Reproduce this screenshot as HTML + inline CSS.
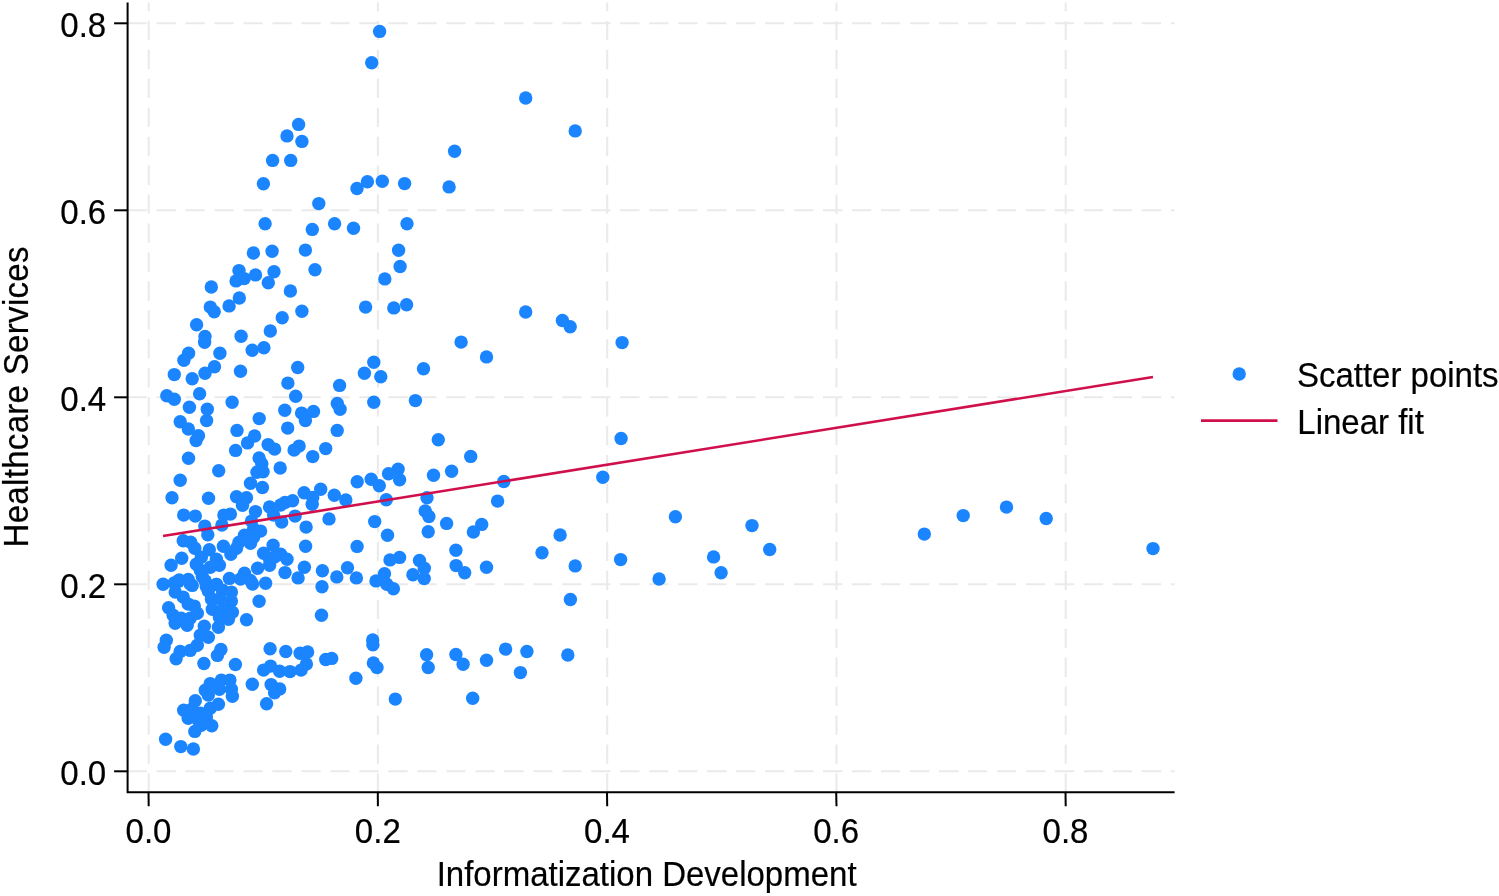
<!DOCTYPE html><html><head><meta charset="utf-8"><title>Scatter</title><style>html,body{margin:0;padding:0;background:#fff}svg{display:block}text{font-family:"Liberation Sans",sans-serif;font-size:33px;fill:#000;stroke:#000;stroke-width:0.2px}</style></head><body>
<svg width="1499" height="896" viewBox="0 0 1499 896">
<rect width="1499" height="896" fill="#fff"/>
<g stroke="#eaeaea" stroke-width="2.1" fill="none"><g stroke-dasharray="19.3 9.68"><line x1="127.5" x2="1174.6" y1="771.3" y2="771.3"/><line x1="127.5" x2="1174.6" y1="584.3" y2="584.3"/><line x1="127.5" x2="1174.6" y1="397.3" y2="397.3"/><line x1="127.5" x2="1174.6" y1="210.3" y2="210.3"/><line x1="127.5" x2="1174.6" y1="23.3" y2="23.3"/></g><g stroke-dasharray="19.3 9.64" stroke-dashoffset="10.54"><line y1="2.5" y2="792" x1="148.7" x2="148.7"/><line y1="2.5" y2="792" x1="377.9" x2="377.9"/><line y1="2.5" y2="792" x1="607.2" x2="607.2"/><line y1="2.5" y2="792" x1="836.5" x2="836.5"/><line y1="2.5" y2="792" x1="1065.7" x2="1065.7"/></g></g>
<g fill="#1a85ff"><circle cx="379.6" cy="31.4" r="6.7"/><circle cx="371.7" cy="62.7" r="6.7"/><circle cx="298.6" cy="124.4" r="6.7"/><circle cx="287.0" cy="135.9" r="6.7"/><circle cx="301.9" cy="141.4" r="6.7"/><circle cx="272.6" cy="160.4" r="6.7"/><circle cx="290.7" cy="160.4" r="6.7"/><circle cx="263.4" cy="183.8" r="6.7"/><circle cx="367.4" cy="181.8" r="6.7"/><circle cx="382.3" cy="181.3" r="6.7"/><circle cx="357.0" cy="188.5" r="6.7"/><circle cx="318.8" cy="203.6" r="6.7"/><circle cx="265.1" cy="223.7" r="6.7"/><circle cx="334.6" cy="223.8" r="6.7"/><circle cx="312.3" cy="229.4" r="6.7"/><circle cx="353.5" cy="228.2" r="6.7"/><circle cx="253.4" cy="253.0" r="6.7"/><circle cx="272.1" cy="251.3" r="6.7"/><circle cx="305.4" cy="250.1" r="6.7"/><circle cx="239.0" cy="270.6" r="6.7"/><circle cx="274.0" cy="271.7" r="6.7"/><circle cx="315.0" cy="269.7" r="6.7"/><circle cx="255.5" cy="274.9" r="6.7"/><circle cx="244.2" cy="278.6" r="6.7"/><circle cx="236.1" cy="280.9" r="6.7"/><circle cx="268.3" cy="282.8" r="6.7"/><circle cx="211.3" cy="287.0" r="6.7"/><circle cx="290.4" cy="291.0" r="6.7"/><circle cx="384.8" cy="278.9" r="6.7"/><circle cx="239.3" cy="298.0" r="6.7"/><circle cx="229.1" cy="305.9" r="6.7"/><circle cx="210.3" cy="307.1" r="6.7"/><circle cx="214.2" cy="311.8" r="6.7"/><circle cx="196.6" cy="324.7" r="6.7"/><circle cx="301.9" cy="311.3" r="6.7"/><circle cx="282.2" cy="317.8" r="6.7"/><circle cx="365.6" cy="307.1" r="6.7"/><circle cx="270.3" cy="331.0" r="6.7"/><circle cx="241.1" cy="336.2" r="6.7"/><circle cx="205.0" cy="336.4" r="6.7"/><circle cx="204.6" cy="342.2" r="6.7"/><circle cx="263.9" cy="347.8" r="6.7"/><circle cx="252.2" cy="350.3" r="6.7"/><circle cx="188.6" cy="353.3" r="6.7"/><circle cx="219.9" cy="353.3" r="6.7"/><circle cx="183.9" cy="360.3" r="6.7"/><circle cx="214.5" cy="366.7" r="6.7"/><circle cx="240.5" cy="371.2" r="6.7"/><circle cx="297.7" cy="367.5" r="6.7"/><circle cx="205.0" cy="373.2" r="6.7"/><circle cx="174.3" cy="374.6" r="6.7"/><circle cx="192.2" cy="378.7" r="6.7"/><circle cx="373.8" cy="362.3" r="6.7"/><circle cx="364.4" cy="373.2" r="6.7"/><circle cx="380.8" cy="376.7" r="6.7"/><circle cx="287.9" cy="383.1" r="6.7"/><circle cx="339.6" cy="385.4" r="6.7"/><circle cx="199.6" cy="393.8" r="6.7"/><circle cx="166.8" cy="395.8" r="6.7"/><circle cx="174.3" cy="399.2" r="6.7"/><circle cx="295.7" cy="396.3" r="6.7"/><circle cx="232.1" cy="402.2" r="6.7"/><circle cx="373.8" cy="402.2" r="6.7"/><circle cx="337.3" cy="403.4" r="6.7"/><circle cx="340.1" cy="409.2" r="6.7"/><circle cx="189.4" cy="407.2" r="6.7"/><circle cx="207.3" cy="409.2" r="6.7"/><circle cx="284.8" cy="410.2" r="6.7"/><circle cx="313.5" cy="411.4" r="6.7"/><circle cx="301.6" cy="413.1" r="6.7"/><circle cx="305.4" cy="420.6" r="6.7"/><circle cx="259.2" cy="418.6" r="6.7"/><circle cx="206.6" cy="420.6" r="6.7"/><circle cx="180.2" cy="421.8" r="6.7"/><circle cx="188.4" cy="429.0" r="6.7"/><circle cx="287.7" cy="428.1" r="6.7"/><circle cx="337.2" cy="430.4" r="6.7"/><circle cx="237.0" cy="430.4" r="6.7"/><circle cx="198.5" cy="435.8" r="6.7"/><circle cx="254.6" cy="436.0" r="6.7"/><circle cx="196.1" cy="440.6" r="6.7"/><circle cx="247.5" cy="442.9" r="6.7"/><circle cx="235.6" cy="450.4" r="6.7"/><circle cx="268.1" cy="444.6" r="6.7"/><circle cx="274.6" cy="449.1" r="6.7"/><circle cx="188.5" cy="458.2" r="6.7"/><circle cx="259.1" cy="458.0" r="6.7"/><circle cx="261.8" cy="463.7" r="6.7"/><circle cx="257.0" cy="472.2" r="6.7"/><circle cx="263.1" cy="471.7" r="6.7"/><circle cx="280.2" cy="468.0" r="6.7"/><circle cx="218.7" cy="470.7" r="6.7"/><circle cx="180.2" cy="480.3" r="6.7"/><circle cx="250.5" cy="483.3" r="6.7"/><circle cx="262.4" cy="487.5" r="6.7"/><circle cx="172.0" cy="497.8" r="6.7"/><circle cx="208.5" cy="498.3" r="6.7"/><circle cx="236.5" cy="496.8" r="6.7"/><circle cx="246.5" cy="497.8" r="6.7"/><circle cx="242.5" cy="505.2" r="6.7"/><circle cx="299.1" cy="446.1" r="6.7"/><circle cx="294.1" cy="450.1" r="6.7"/><circle cx="325.7" cy="448.6" r="6.7"/><circle cx="312.7" cy="456.6" r="6.7"/><circle cx="357.2" cy="481.8" r="6.7"/><circle cx="371.2" cy="479.3" r="6.7"/><circle cx="379.3" cy="485.8" r="6.7"/><circle cx="388.5" cy="473.7" r="6.7"/><circle cx="398.1" cy="469.2" r="6.7"/><circle cx="399.6" cy="479.8" r="6.7"/><circle cx="386.3" cy="499.7" r="6.7"/><circle cx="320.7" cy="489.3" r="6.7"/><circle cx="304.1" cy="492.8" r="6.7"/><circle cx="312.7" cy="497.5" r="6.7"/><circle cx="312.2" cy="504.2" r="6.7"/><circle cx="334.3" cy="495.3" r="6.7"/><circle cx="345.8" cy="500.0" r="6.7"/><circle cx="292.6" cy="500.7" r="6.7"/><circle cx="285.0" cy="502.4" r="6.7"/><circle cx="183.7" cy="515.1" r="6.7"/><circle cx="195.3" cy="516.1" r="6.7"/><circle cx="204.8" cy="526.1" r="6.7"/><circle cx="207.8" cy="534.7" r="6.7"/><circle cx="223.9" cy="515.1" r="6.7"/><circle cx="230.4" cy="514.1" r="6.7"/><circle cx="221.9" cy="525.1" r="6.7"/><circle cx="255.5" cy="511.6" r="6.7"/><circle cx="251.5" cy="521.1" r="6.7"/><circle cx="269.6" cy="507.0" r="6.7"/><circle cx="273.6" cy="515.1" r="6.7"/><circle cx="281.7" cy="522.1" r="6.7"/><circle cx="280.7" cy="505.0" r="6.7"/><circle cx="183.2" cy="540.7" r="6.7"/><circle cx="190.7" cy="542.2" r="6.7"/><circle cx="194.8" cy="548.2" r="6.7"/><circle cx="209.3" cy="549.7" r="6.7"/><circle cx="223.4" cy="546.2" r="6.7"/><circle cx="230.9" cy="554.3" r="6.7"/><circle cx="239.0" cy="542.2" r="6.7"/><circle cx="244.5" cy="535.2" r="6.7"/><circle cx="250.5" cy="543.2" r="6.7"/><circle cx="253.5" cy="529.1" r="6.7"/><circle cx="260.6" cy="531.1" r="6.7"/><circle cx="181.7" cy="558.3" r="6.7"/><circle cx="171.1" cy="565.3" r="6.7"/><circle cx="196.3" cy="564.3" r="6.7"/><circle cx="201.3" cy="557.3" r="6.7"/><circle cx="216.4" cy="559.3" r="6.7"/><circle cx="219.4" cy="565.3" r="6.7"/><circle cx="210.3" cy="567.3" r="6.7"/><circle cx="273.1" cy="545.2" r="6.7"/><circle cx="263.6" cy="553.3" r="6.7"/><circle cx="269.6" cy="559.3" r="6.7"/><circle cx="280.7" cy="554.3" r="6.7"/><circle cx="287.0" cy="559.3" r="6.7"/><circle cx="257.6" cy="568.3" r="6.7"/><circle cx="269.6" cy="565.3" r="6.7"/><circle cx="285.0" cy="572.6" r="6.7"/><circle cx="244.5" cy="573.3" r="6.7"/><circle cx="229.4" cy="578.4" r="6.7"/><circle cx="250.5" cy="580.4" r="6.7"/><circle cx="265.6" cy="583.2" r="6.7"/><circle cx="200.3" cy="570.3" r="6.7"/><circle cx="202.3" cy="576.4" r="6.7"/><circle cx="188.2" cy="579.4" r="6.7"/><circle cx="178.2" cy="581.4" r="6.7"/><circle cx="163.1" cy="584.2" r="6.7"/><circle cx="192.2" cy="585.4" r="6.7"/><circle cx="216.4" cy="584.4" r="6.7"/><circle cx="206.3" cy="586.4" r="6.7"/><circle cx="295.1" cy="516.1" r="6.7"/><circle cx="306.1" cy="527.1" r="6.7"/><circle cx="329.0" cy="518.9" r="6.7"/><circle cx="374.7" cy="521.6" r="6.7"/><circle cx="387.5" cy="535.3" r="6.7"/><circle cx="305.6" cy="546.2" r="6.7"/><circle cx="357.1" cy="546.4" r="6.7"/><circle cx="425.2" cy="511" r="6.7"/><circle cx="428.9" cy="516.5" r="6.7"/><circle cx="428.2" cy="531.8" r="6.7"/><circle cx="304.4" cy="567.3" r="6.7"/><circle cx="298.1" cy="577.9" r="6.7"/><circle cx="322.4" cy="570.8" r="6.7"/><circle cx="336.8" cy="576.9" r="6.7"/><circle cx="347.5" cy="567.8" r="6.7"/><circle cx="356.4" cy="577.9" r="6.7"/><circle cx="322.0" cy="586.8" r="6.7"/><circle cx="390.0" cy="559.9" r="6.7"/><circle cx="399.6" cy="557.4" r="6.7"/><circle cx="384.5" cy="573.8" r="6.7"/><circle cx="376.0" cy="580.9" r="6.7"/><circle cx="386.8" cy="584.2" r="6.7"/><circle cx="393.4" cy="588.7" r="6.7"/><circle cx="419.5" cy="560.5" r="6.7"/><circle cx="424.3" cy="568.3" r="6.7"/><circle cx="412.9" cy="574.8" r="6.7"/><circle cx="424.2" cy="578.5" r="6.7"/><circle cx="174.2" cy="583" r="6.7"/><circle cx="179.2" cy="580" r="6.7"/><circle cx="190.2" cy="584.0" r="6.7"/><circle cx="175.2" cy="592.1" r="6.7"/><circle cx="183.2" cy="597.1" r="6.7"/><circle cx="188.2" cy="604.1" r="6.7"/><circle cx="194.3" cy="606.1" r="6.7"/><circle cx="168.6" cy="607.7" r="6.7"/><circle cx="173.2" cy="615.2" r="6.7"/><circle cx="175.2" cy="623.2" r="6.7"/><circle cx="181.2" cy="618.2" r="6.7"/><circle cx="187.2" cy="625.2" r="6.7"/><circle cx="190.2" cy="618.2" r="6.7"/><circle cx="197.3" cy="613.2" r="6.7"/><circle cx="205.3" cy="581.0" r="6.7"/><circle cx="216.4" cy="584.5" r="6.7"/><circle cx="208.3" cy="591.1" r="6.7"/><circle cx="222.4" cy="590.1" r="6.7"/><circle cx="231.4" cy="592.1" r="6.7"/><circle cx="211.5" cy="599.3" r="6.7"/><circle cx="219.6" cy="598.6" r="6.7"/><circle cx="231.4" cy="601.1" r="6.7"/><circle cx="212.3" cy="609.2" r="6.7"/><circle cx="223.4" cy="609.2" r="6.7"/><circle cx="232.4" cy="612.2" r="6.7"/><circle cx="219.4" cy="617.2" r="6.7"/><circle cx="228.4" cy="619.2" r="6.7"/><circle cx="218.4" cy="627.2" r="6.7"/><circle cx="252.5" cy="584" r="6.7"/><circle cx="240.5" cy="579" r="6.7"/><circle cx="259.1" cy="601.3" r="6.7"/><circle cx="246.5" cy="619.7" r="6.7"/><circle cx="204.3" cy="626.2" r="6.7"/><circle cx="200.3" cy="635.3" r="6.7"/><circle cx="208.3" cy="637.3" r="6.7"/><circle cx="197.3" cy="645.3" r="6.7"/><circle cx="190.2" cy="650.4" r="6.7"/><circle cx="180.2" cy="651.4" r="6.7"/><circle cx="176.1" cy="658.7" r="6.7"/><circle cx="166.3" cy="640.3" r="6.7"/><circle cx="164.1" cy="647.3" r="6.7"/><circle cx="220.9" cy="649.4" r="6.7"/><circle cx="217.4" cy="655.4" r="6.7"/><circle cx="270.1" cy="648.8" r="6.7"/><circle cx="285.8" cy="651.5" r="6.7"/><circle cx="203.9" cy="663.5" r="6.7"/><circle cx="235.4" cy="664.5" r="6.7"/><circle cx="321.5" cy="615.2" r="6.7"/><circle cx="372.7" cy="639.9" r="6.7"/><circle cx="372.9" cy="644.7" r="6.7"/><circle cx="300.1" cy="653.2" r="6.7"/><circle cx="307.6" cy="651.9" r="6.7"/><circle cx="306.4" cy="664.0" r="6.7"/><circle cx="325.7" cy="659.5" r="6.7"/><circle cx="331.7" cy="658.4" r="6.7"/><circle cx="373.4" cy="663.0" r="6.7"/><circle cx="377.0" cy="667.6" r="6.7"/><circle cx="426.6" cy="654.7" r="6.7"/><circle cx="263.6" cy="670.1" r="6.7"/><circle cx="270.6" cy="666.1" r="6.7"/><circle cx="279.6" cy="671.3" r="6.7"/><circle cx="290.0" cy="671.6" r="6.7"/><circle cx="301.1" cy="670.1" r="6.7"/><circle cx="252.3" cy="684.3" r="6.7"/><circle cx="271.1" cy="684.6" r="6.7"/><circle cx="279.7" cy="688.9" r="6.7"/><circle cx="274.6" cy="692.7" r="6.7"/><circle cx="266.6" cy="703.7" r="6.7"/><circle cx="210.3" cy="683.6" r="6.7"/><circle cx="221.4" cy="680.1" r="6.7"/><circle cx="229.9" cy="680.1" r="6.7"/><circle cx="205.3" cy="690.2" r="6.7"/><circle cx="219.4" cy="689.2" r="6.7"/><circle cx="231.4" cy="689.2" r="6.7"/><circle cx="232.4" cy="696.2" r="6.7"/><circle cx="195.3" cy="700.7" r="6.7"/><circle cx="218.4" cy="704.2" r="6.7"/><circle cx="210.3" cy="708.3" r="6.7"/><circle cx="183.7" cy="710.3" r="6.7"/><circle cx="200.3" cy="713.3" r="6.7"/><circle cx="188.2" cy="718.3" r="6.7"/><circle cx="198.3" cy="720.3" r="6.7"/><circle cx="206.3" cy="717.3" r="6.7"/><circle cx="211.8" cy="725.8" r="6.7"/><circle cx="194.8" cy="731.4" r="6.7"/><circle cx="201.3" cy="725.3" r="6.7"/><circle cx="192" cy="709" r="6.7"/><circle cx="165.6" cy="739.2" r="6.7"/><circle cx="180.8" cy="746.6" r="6.7"/><circle cx="193.4" cy="749.0" r="6.7"/><circle cx="355.9" cy="678.3" r="6.7"/><circle cx="395.3" cy="699.1" r="6.7"/><circle cx="428.2" cy="667.5" r="6.7"/><circle cx="525.7" cy="98.0" r="6.7"/><circle cx="575.2" cy="130.9" r="6.7"/><circle cx="454.6" cy="151.2" r="6.7"/><circle cx="404.6" cy="183.6" r="6.7"/><circle cx="449.1" cy="186.9" r="6.7"/><circle cx="407.0" cy="223.7" r="6.7"/><circle cx="398.6" cy="250.2" r="6.7"/><circle cx="400.1" cy="266.5" r="6.7"/><circle cx="406.6" cy="304.7" r="6.7"/><circle cx="393.8" cy="307.9" r="6.7"/><circle cx="525.7" cy="312.0" r="6.7"/><circle cx="562.4" cy="320.5" r="6.7"/><circle cx="570.2" cy="326.8" r="6.7"/><circle cx="461.1" cy="342.1" r="6.7"/><circle cx="486.5" cy="356.9" r="6.7"/><circle cx="622.1" cy="342.6" r="6.7"/><circle cx="423.5" cy="368.7" r="6.7"/><circle cx="415.4" cy="400.6" r="6.7"/><circle cx="438.3" cy="439.7" r="6.7"/><circle cx="621.1" cy="438.5" r="6.7"/><circle cx="470.7" cy="456.4" r="6.7"/><circle cx="433.5" cy="475.2" r="6.7"/><circle cx="451.6" cy="471.2" r="6.7"/><circle cx="503.8" cy="481.5" r="6.7"/><circle cx="602.8" cy="477.2" r="6.7"/><circle cx="427.0" cy="497.8" r="6.7"/><circle cx="497.6" cy="501.1" r="6.7"/><circle cx="446.6" cy="523.4" r="6.7"/><circle cx="481.7" cy="524.4" r="6.7"/><circle cx="473.4" cy="532.0" r="6.7"/><circle cx="675.4" cy="516.7" r="6.7"/><circle cx="752.0" cy="525.6" r="6.7"/><circle cx="560.1" cy="535.0" r="6.7"/><circle cx="542.0" cy="552.8" r="6.7"/><circle cx="455.9" cy="550.3" r="6.7"/><circle cx="456.1" cy="565.6" r="6.7"/><circle cx="464.7" cy="572.7" r="6.7"/><circle cx="486.5" cy="567.2" r="6.7"/><circle cx="575.2" cy="565.9" r="6.7"/><circle cx="620.6" cy="559.6" r="6.7"/><circle cx="713.6" cy="556.9" r="6.7"/><circle cx="721.1" cy="572.7" r="6.7"/><circle cx="659.1" cy="579.0" r="6.7"/><circle cx="570.4" cy="599.5" r="6.7"/><circle cx="455.9" cy="654.5" r="6.7"/><circle cx="463.1" cy="664.3" r="6.7"/><circle cx="486.5" cy="660.3" r="6.7"/><circle cx="505.6" cy="649.1" r="6.7"/><circle cx="526.9" cy="651.5" r="6.7"/><circle cx="520.4" cy="672.6" r="6.7"/><circle cx="567.8" cy="655.0" r="6.7"/><circle cx="472.7" cy="698.2" r="6.7"/><circle cx="769.7" cy="549.5" r="6.7"/><circle cx="924.3" cy="534.1" r="6.7"/><circle cx="963.2" cy="515.6" r="6.7"/><circle cx="1006.5" cy="507.1" r="6.7"/><circle cx="1046.2" cy="518.5" r="6.7"/><circle cx="1153.0" cy="548.6" r="6.7"/><circle cx="253.5" cy="537.2" r="6.7"/><circle cx="236.5" cy="548.2" r="6.7"/><circle cx="274.6" cy="557.0" r="6.7"/><circle cx="208.3" cy="695.0" r="6.7"/></g>
<line x1="163" y1="536" x2="1153" y2="377" stroke="#d0104c" stroke-width="2.6"/>
<g stroke="#000" stroke-width="2"><path d="M127.6 2.4 V792.3 H1174.6" fill="none"/><line x1="114.1" x2="127.6" y1="771.3" y2="771.3"/><line y1="792.3" y2="806.2" x1="148.5" x2="148.7"/><line x1="114.1" x2="127.6" y1="584.3" y2="584.3"/><line y1="792.3" y2="806.2" x1="377.8" x2="377.9"/><line x1="114.1" x2="127.6" y1="397.3" y2="397.3"/><line y1="792.3" y2="806.2" x1="607.0" x2="607.2"/><line x1="114.1" x2="127.6" y1="210.3" y2="210.3"/><line y1="792.3" y2="806.2" x1="836.2" x2="836.5"/><line x1="114.1" x2="127.6" y1="23.3" y2="23.3"/><line y1="792.3" y2="806.2" x1="1065.5" x2="1065.7"/></g>
<text transform="translate(106.2 784.7) scale(1 1.04)" text-anchor="end">0.0</text>
<text transform="translate(148.5 843.2) scale(1 1.04)" text-anchor="middle">0.0</text>
<text transform="translate(106.2 597.7) scale(1 1.04)" text-anchor="end">0.2</text>
<text transform="translate(377.8 843.2) scale(1 1.04)" text-anchor="middle">0.2</text>
<text transform="translate(106.2 410.7) scale(1 1.04)" text-anchor="end">0.4</text>
<text transform="translate(607.0 843.2) scale(1 1.04)" text-anchor="middle">0.4</text>
<text transform="translate(106.2 223.7) scale(1 1.04)" text-anchor="end">0.6</text>
<text transform="translate(836.2 843.2) scale(1 1.04)" text-anchor="middle">0.6</text>
<text transform="translate(106.2 36.7) scale(1 1.04)" text-anchor="end">0.8</text>
<text transform="translate(1065.5 843.2) scale(1 1.04)" text-anchor="middle">0.8</text>
<text transform="translate(646.6 885.8) scale(1 1.04)" text-anchor="middle">Informatization Development</text>
<text transform="translate(27.5 396.8) rotate(-90) scale(1 1.04)" text-anchor="middle" letter-spacing="0.32">Healthcare Services</text>
<circle cx="1239.2" cy="374" r="6.7" fill="#1a85ff"/>
<line x1="1201" x2="1277.5" y1="420.6" y2="420.6" stroke="#d0104c" stroke-width="2.6"/>
<text transform="translate(1296.9 387.1) scale(1 1.04)" text-anchor="start">Scatter points</text>
<text transform="translate(1297.3 434.3) scale(1 1.04)" text-anchor="start">Linear fit</text>
</svg></body></html>
